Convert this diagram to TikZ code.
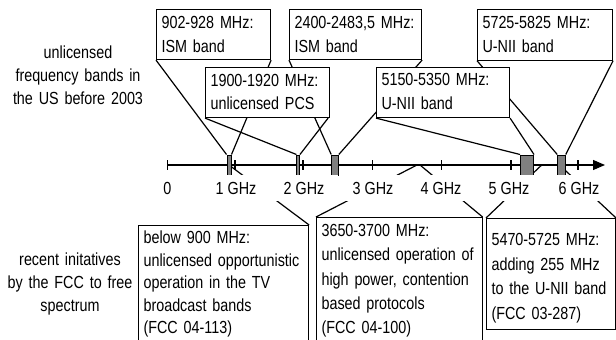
\documentclass[tikz,border=0pt]{standalone}
\usepackage{fontspec}
\setmainfont{Liberation Sans}[FakeStretch=0.82]
\usetikzlibrary{arrows.meta}
\pgfdeclarelayer{wires}
\pgfsetlayers{wires,main}
\begin{document}
\begin{tikzpicture}[x=1pt,y=-1pt,
  infobox/.style={draw, line width=1.1pt, fill=white, anchor=north west,
    inner xsep=5pt, inner ysep=0pt, align=left},
  band/.style={draw, line width=1pt, fill=black!50, inner sep=0pt,
    minimum height=20pt},
  ticklabel/.style={fill=white, inner sep=0pt, minimum width=68pt,
    minimum height=26pt, font=\fontsize{17.5}{20}\selectfont},
  sidetext/.style={anchor=base, text width=160pt, align=center, inner sep=0pt},
  wire/.style={line width=1.2pt},
  axis/.style={line width=1.1pt}]
\useasboundingbox (0,0) rectangle (616,340);

% side captions
\node[sidetext, font=\fontsize{17.5}{23.3}\selectfont] (capold) at (78,58.3)
  {unlicensed\\frequency bands in\\the US before 2003};
\node[sidetext, font=\fontsize{17.5}{23.3}\selectfont] (capnew) at (70,265)
  {recent initatives\\by the FCC to free\\spectrum};

% frequency axis
\coordinate (axstart) at (167.3,165);
\coordinate (axend) at (605,165);
\draw[axis, -{Triangle[length=12pt,width=10pt]}] (axstart) -- (axend);
\foreach \x in {167.3,235,303,372.5,441.5,511,578}
  \draw[axis] (\x,160) -- (\x,170);

% band markers on the axis
\node[band, minimum width=4pt]   (band900)  at (229,165) {};
\node[band, minimum width=2.5pt] (bandpcs)  at (298.2,165) {};
\node[band, minimum width=6.6pt] (band24)   at (335,165) {};
\node[band, minimum width=13pt]  (bandun1)  at (527,165) {};
\node[band, minimum width=7.5pt] (bandun3)  at (561.5,165) {};

\coordinate (f3650) at (417,165);
\coordinate (f3700) at (420,165);
\coordinate (f5470) at (541.7,165);
\coordinate (f5725) at (559.5,165);

% axis labels
\node[ticklabel] (l0) at (167.3,188) {0};
\node[ticklabel] (l1) at (236,188) {1 GHz};
\node[ticklabel] (l2) at (304,188) {2 GHz};
\node[ticklabel] (l3) at (373,188) {3 GHz};
\node[ticklabel] (l4) at (441,188) {4 GHz};
\node[ticklabel] (l5) at (509,188) {5 GHz};
\node[ticklabel] (l6) at (579,188) {6 GHz};

% unlicensed bands before 2003
\node[infobox, text width=104pt, text height=18.6pt, text depth=31.4pt,
  font=\fontsize{17.5}{24.5}\selectfont] (ism900) at (156,9)
  {902-928 MHz:\\ISM band};
\node[infobox, text width=122pt, text height=18.6pt, text depth=31.4pt,
  font=\fontsize{17.5}{24.5}\selectfont] (ism24) at (289,9)
  {2400-2483,5 MHz:\\ISM band};
\node[infobox, text width=125pt, text height=18.6pt, text depth=32pt,
  font=\fontsize{17.5}{24}\selectfont] (unii3) at (477,9)
  {5725-5825 MHz:\\U-NII band};
\node[infobox, text width=114pt, text height=18.5pt, text depth=31.5pt,
  font=\fontsize{17.5}{23.5}\selectfont] (pcs) at (205,67)
  {1900-1920 MHz:\\unlicensed PCS};
\node[infobox, text width=123pt, text height=18pt, text depth=32pt,
  font=\fontsize{17.5}{23.5}\selectfont] (unii1) at (376,67)
  {5150-5350 MHz:\\U-NII band};

% recent FCC initiatives
\node[infobox, text width=160pt, text height=18.3pt, text depth=102pt,
  font=\fontsize{17.5}{22.5}\selectfont] (tv) at (138,225)
  {below 900 MHz:\\unlicensed opportunistic\\operation in the TV\\broadcast bands\\(FCC 04-113)};
\node[infobox, text width=155.5pt, text height=19pt, text depth=110pt,
  font=\fontsize{17.5}{24.3}\selectfont] (cbp) at (316,217)
  {3650-3700 MHz:\\unlicensed operation of\\high power, contention\\based protocols\\(FCC 04-100)};
\node[infobox, text width=119pt, text height=27pt, text depth=84pt,
  font=\fontsize{17.5}{24.7}\selectfont] (unii2e) at (486,218)
  {5470-5725 MHz:\\adding 255 MHz\\to the U-NII band\\(FCC 03-287)};

% callout lines, kept underneath boxes and labels
\begin{pgfonlayer}{wires}
  \draw[wire] (ism900.south west) -- (band900.north west);
  \draw[wire] (ism900.south east) -- (band900.north east);
  \draw[wire] (pcs.south west) -- (bandpcs.north west);
  \draw[wire] ([xshift=-2pt]pcs.south east) -- (bandpcs.north east);
  \draw[wire] (ism24.south west) -- (band24.north west);
  \draw[wire] (ism24.south east) -- (band24.north east);
  \draw[wire] (unii1.south west) -- (bandun1.north west);
  \draw[wire] (unii1.south east) -- (bandun1.north east);
  \draw[wire] (unii3.south west) -- (bandun3.north west);
  \draw[wire] (unii3.south east) -- (bandun3.north east);
  \draw[wire] (tv.north east) -- (band900.center);
  \draw[wire] (cbp.north west) -- (f3650);
  \draw[wire] (cbp.north east) -- (f3700);
  \draw[wire] (unii2e.north west) -- (f5470);
  \draw[wire] (unii2e.north east) -- (f5725);
\end{pgfonlayer}
\end{tikzpicture}
\end{document}
